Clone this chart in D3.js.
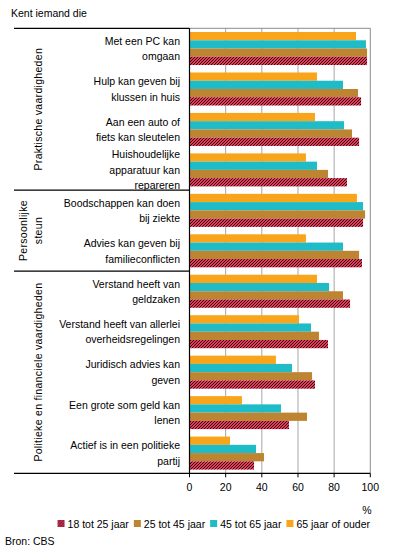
<!DOCTYPE html>
<html>
<head>
<meta charset="utf-8">
<script src="https://cdn.jsdelivr.net/npm/d3@7"></script>
<style>
  html, body { margin: 0; padding: 0; background: #fff; }
  svg { display: block; }
  text { font-family: "Liberation Sans", Arial, sans-serif; font-size: 10.5px; fill: #000; }
</style>
</head>
<body>
<svg id="chart" width="396" height="552"></svg>
<script>
// ---- data ----
const categories = [
  "Met een PC kan\nomgaan",
  "Hulp kan geven bij\nklussen in huis",
  "Aan een auto of\nfiets kan sleutelen",
  "Huishoudelijke\napparatuur kan\nrepareren",
  "Boodschappen kan doen\nbij ziekte",
  "Advies kan geven bij\nfamilieconflicten",
  "Verstand heeft van\ngeldzaken",
  "Verstand heeft van allerlei\noverheidsregelingen",
  "Juridisch advies kan\ngeven",
  "Een grote som geld kan\nlenen",
  "Actief is in een politieke\npartij"
];
const groups = ["Praktische vaardigheden", "Persoonlijke\nsteun", "Politieke en financiele vaardigheden"];
const groupSizes = [4, 2, 5];
const seriesNames = ["18 tot 25 jaar", "25 tot 45 jaar", "45 tot 65 jaar", "65 jaar of ouder"];
const age18to25 = [98.2, 94.9, 93.8, 87.1, 96.0, 95.4, 88.8, 76.6, 69.4, 55.0, 35.7];
const age25to45 = [98.2, 93.2, 89.9, 76.6, 97.1, 93.8, 84.9, 71.6, 67.8, 65.0, 41.2];
const age45to65 = [97.6, 84.9, 85.5, 70.5, 96.0, 84.9, 77.2, 67.2, 56.7, 50.6, 36.8];
const age65plus = [92.1, 70.5, 69.4, 64.4, 92.6, 64.4, 70.5, 60.6, 47.8, 29.0, 22.4];
const xTicks = [0, 20, 40, 60, 80, 100];
const colors = ["url(#hatch)", "#bd8431", "#1fbcc8", "#f9a51b"];
const title = "Kent iemand die";
const unitLabel = "%";
const source = "Bron: CBS";

// ---- layout ----
const svg = d3.select("#chart");
const plotLeft = 189.5, plotRight = 370.3, plotTop = 28.3, plotBottom = 473.3, frameLeft = 14;

const defs = svg.append("defs");
const pat = defs.append("pattern").attr("id", "hatch").attr("patternUnits", "userSpaceOnUse")
  .attr("width", 3).attr("height", 3);
pat.append("rect").attr("width", 3).attr("height", 3).attr("fill", "#e8375b");
pat.append("path").attr("d", "M-0.75,0.75 l1.5,-1.5 M0,3 l3,-3 M2.25,3.75 l1.5,-1.5")
  .attr("stroke", "#000").attr("stroke-width", 0.85);

const x = d3.scaleLinear().domain([0, 100]).range([plotLeft, plotRight]);
const y = d3.scaleBand().domain(categories).range([plotTop, plotBottom])
  .paddingInner(0.184).paddingOuter(0.092);
// draw order top to bottom: 65+, 45-65, 25-45, 18-25
const drawOrder = [3, 2, 1, 0];
const yInner = d3.scaleBand().domain(drawOrder).range([0, y.bandwidth()]);
const seriesValues = [age18to25, age25to45, age45to65, age65plus];

// grid lines
svg.append("g").selectAll("line").data(xTicks.filter(t => t > 0 && t < 100)).join("line")
  .attr("x1", d => x(d)).attr("x2", d => x(d))
  .attr("y1", plotTop).attr("y2", plotBottom)
  .attr("stroke", "#a6a6a6").attr("stroke-width", 1);
// frame top/right gray
svg.append("path")
  .attr("d", `M${plotLeft},${plotTop}H${plotRight}V${plotBottom}`)
  .attr("fill", "none").attr("stroke", "#8c8c8c").attr("stroke-width", 1);

// bars
const barG = svg.append("g");
categories.forEach((c, i) => {
  drawOrder.forEach(s => {
    barG.append("rect")
      .attr("x", x(0))
      .attr("y", y(c) + yInner(s))
      .attr("width", x(seriesValues[s][i]) - x(0))
      .attr("height", yInner.bandwidth())
      .attr("fill", colors[s]);
  });
});

// left axis line
svg.append("line").attr("x1", plotLeft).attr("x2", plotLeft)
  .attr("y1", plotTop).attr("y2", plotBottom).attr("stroke", "#000").attr("stroke-width", 1.2);

// group separators
let idx = 0;
const boundaries = [plotTop];
groupSizes.forEach(n => { idx += n; boundaries.push(idx < categories.length ? y(categories[idx]) - y.step() * y.paddingInner() / 2 : plotBottom); });
svg.append("g").selectAll("line").data(boundaries.slice(0, -1)).join("line")
  .attr("x1", frameLeft).attr("x2", plotLeft)
  .attr("y1", d => d).attr("y2", d => d)
  .attr("stroke", "#000").attr("stroke-width", 1.2);

// bottom axis
const xAxis = svg.append("g").attr("transform", `translate(0,${plotBottom})`);
xAxis.append("line").attr("x1", frameLeft).attr("x2", plotRight).attr("stroke", "#000").attr("stroke-width", 1.2);
xAxis.selectAll(".tick").data(xTicks).join("line")
  .attr("x1", d => x(d)).attr("x2", d => x(d)).attr("y1", 0).attr("y2", 4)
  .attr("stroke", "#000");
xAxis.selectAll("text").data(xTicks).join("text")
  .attr("x", d => x(d)).attr("y", 18).attr("text-anchor", "middle").text(d => d);

// category labels
const lineH = 15.5;
categories.forEach(c => {
  const lines = c.split("\n");
  const cy = y(c) + y.bandwidth() / 2;
  const t = svg.append("text").attr("text-anchor", "end").attr("dominant-baseline", "central");
  lines.forEach((l, k) => {
    t.append("tspan").attr("x", 180).attr("y", cy + (k - (lines.length - 1) / 2) * lineH).text(l);
  });
});

// group labels
groups.forEach((g, gi) => {
  const cy = (boundaries[gi] + boundaries[gi + 1]) / 2;
  const lines = g.split("\n");
  lines.forEach((l, k) => {
    const cx = 38 - (lines.length - 1 - k) * 15;
    svg.append("text")
      .attr("transform", `translate(${cx},${cy}) rotate(-90)`)
      .attr("text-anchor", "middle").attr("dominant-baseline", "central")
      .attr("letter-spacing", "0.3px")
      .text(l);
  });
});

// title, unit, source
svg.append("text").attr("x", 11).attr("y", 17).text(title);
svg.append("text").attr("x", 367).attr("y", 514).attr("text-anchor", "middle").text(unitLabel);
svg.append("text").attr("x", 5).attr("y", 545).text(source);

// legend
const leg = svg.append("g");
let lx = 0;
seriesNames.forEach((n, i) => {
  const it = leg.append("g").attr("transform", `translate(${lx},0)`);
  it.append("rect").attr("x", 0).attr("y", -3.5).attr("width", 7).attr("height", 7).attr("fill", colors[i]);
  const t = it.append("text").attr("x", 10).attr("y", 0).attr("dominant-baseline", "central").text(n);
  lx += 10 + t.node().getComputedTextLength() + 5;
});
const legW = lx - 5;
leg.attr("transform", `translate(${370 - legW},523.5)`);
</script>
</body>
</html>
